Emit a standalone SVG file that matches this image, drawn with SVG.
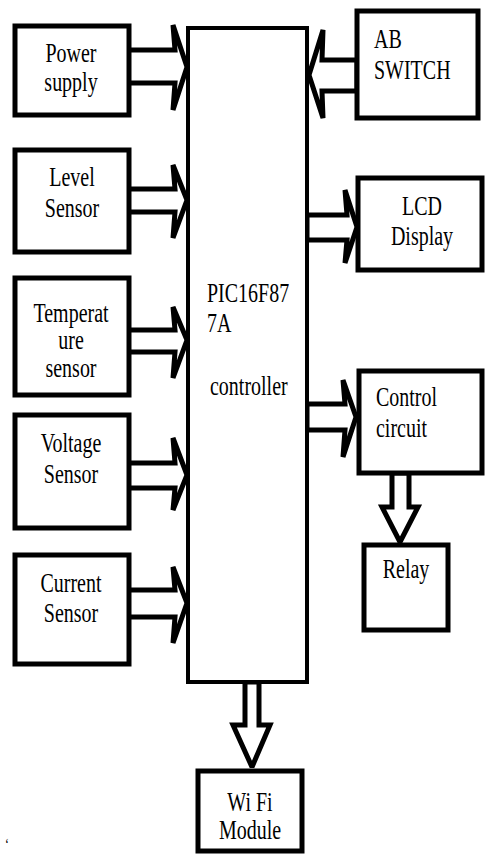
<svg xmlns="http://www.w3.org/2000/svg" width="486" height="854" viewBox="0 0 486 854" font-family="'Liberation Serif', 'Times New Roman', serif">
<style>
.box{fill:#fff;stroke:#000;stroke-width:5}
.ctl{fill:#fff;stroke:#000;stroke-width:4}
.arr{fill:#fff;stroke:#000;stroke-width:5;stroke-linejoin:miter;stroke-miterlimit:2}
text{font-family:'Liberation Serif','Times New Roman',serif;font-size:27px;fill:#000}
.c{text-anchor:middle}
</style>
<rect width="486" height="854" fill="#fff"/>
<g id="connectors">
<polygon class="arr" points="128,50 175,50 173,25 187,67 173,110 175,83 128,83"/>
<polygon class="arr" points="128,189 175,189 173,165 187,200 173,238 175,212 128,212"/>
<polygon class="arr" points="128,330 175,330 173,307 187,340 173,378 175,352 128,352"/>
<polygon class="arr" points="128,463 175,463 173,438 187,475 173,510 175,488 128,488"/>
<polygon class="arr" points="128,590 175,590 173,567 187,603 173,643 175,617 128,617"/>
<polygon class="arr" points="357,60 322,60 323,30 309,75 323,118 322,91 357,91"/>
<polygon class="arr" points="307,215 347,215 345,190 357,227 345,263 347,240 307,240"/>
<polygon class="arr" points="307,404 345,404 343,380 356,417 343,457 345,430 307,430"/>
<polygon class="arr" points="392,473 392,507 382,507 400,542 418,507 409,507 409,473"/>
<polygon class="arr" points="245,682 245,725 233,725 252,767 270,725 259,725 259,682"/>
</g>
<g id="power">
<rect class="box" x="15" y="26" width="114" height="89"/>
<text class="c" font-family="Liberation Serif, serif" transform="translate(71,62) scale(0.74,1)">Power</text>
<text class="c" font-family="Liberation Serif, serif" transform="translate(71,91) scale(0.74,1)">supply</text>
</g>
<g id="level">
<rect class="box" x="15" y="150" width="114" height="102"/>
<text class="c" font-family="Liberation Serif, serif" transform="translate(72,186) scale(0.74,1)">Level</text>
<text class="c" font-family="Liberation Serif, serif" transform="translate(72,217) scale(0.74,1)">Sensor</text>
</g>
<g id="temperature">
<rect class="box" x="15" y="278" width="114" height="117"/>
<text class="c" font-family="Liberation Serif, serif" transform="translate(71,322) scale(0.74,1)">Temperat</text>
<text class="c" font-family="Liberation Serif, serif" transform="translate(71,349) scale(0.74,1)">ure</text>
<text class="c" font-family="Liberation Serif, serif" transform="translate(71,377) scale(0.74,1)">sensor</text>
</g>
<g id="voltage">
<rect class="box" x="15" y="415" width="114" height="113"/>
<text class="c" font-family="Liberation Serif, serif" transform="translate(71,452) scale(0.74,1)">Voltage</text>
<text class="c" font-family="Liberation Serif, serif" transform="translate(71,483) scale(0.74,1)">Sensor</text>
</g>
<g id="current">
<rect class="box" x="15" y="555" width="114" height="109"/>
<text class="c" font-family="Liberation Serif, serif" transform="translate(71,592) scale(0.74,1)">Current</text>
<text class="c" font-family="Liberation Serif, serif" transform="translate(71,622) scale(0.74,1)">Sensor</text>
</g>
<g id="controller">
<rect class="ctl" x="188" y="28" width="119" height="654"/>
<text font-family="Liberation Serif, serif" transform="translate(207,302) scale(0.74,1)">PIC16F87</text>
<text font-family="Liberation Serif, serif" transform="translate(207,332) scale(0.74,1)">7A</text>
<text font-family="Liberation Serif, serif" transform="translate(210,395) scale(0.74,1)">controller</text>
</g>
<g id="abswitch">
<rect class="box" x="357" y="11" width="121" height="107"/>
<text font-family="Liberation Serif, serif" transform="translate(374,48) scale(0.74,1)">AB</text>
<text font-family="Liberation Serif, serif" transform="translate(374,79) scale(0.74,1)">SWITCH</text>
</g>
<g id="lcd">
<rect class="box" x="358" y="178" width="124" height="92"/>
<text class="c" font-family="Liberation Serif, serif" transform="translate(422,215) scale(0.74,1)">LCD</text>
<text class="c" font-family="Liberation Serif, serif" transform="translate(422,245) scale(0.74,1)">Display</text>
</g>
<g id="control">
<rect class="box" x="359" y="371" width="123" height="102"/>
<text font-family="Liberation Serif, serif" transform="translate(376,406) scale(0.74,1)">Control</text>
<text font-family="Liberation Serif, serif" transform="translate(376,437) scale(0.74,1)">circuit</text>
</g>
<g id="relay">
<rect class="box" x="364" y="545" width="84" height="85"/>
<text class="c" font-family="Liberation Serif, serif" transform="translate(406,578) scale(0.74,1)">Relay</text>
</g>
<g id="wifi">
<rect class="box" x="198" y="771" width="104" height="80"/>
<text class="c" font-family="Liberation Serif, serif" transform="translate(250,811) scale(0.74,1)">Wi Fi</text>
<text class="c" font-family="Liberation Serif, serif" transform="translate(250,839) scale(0.74,1)">Module</text>
</g>
<text font-family="Liberation Serif, serif" transform="translate(5,850) scale(0.74,1)" style="font-size:16px">‘</text>
</svg>
